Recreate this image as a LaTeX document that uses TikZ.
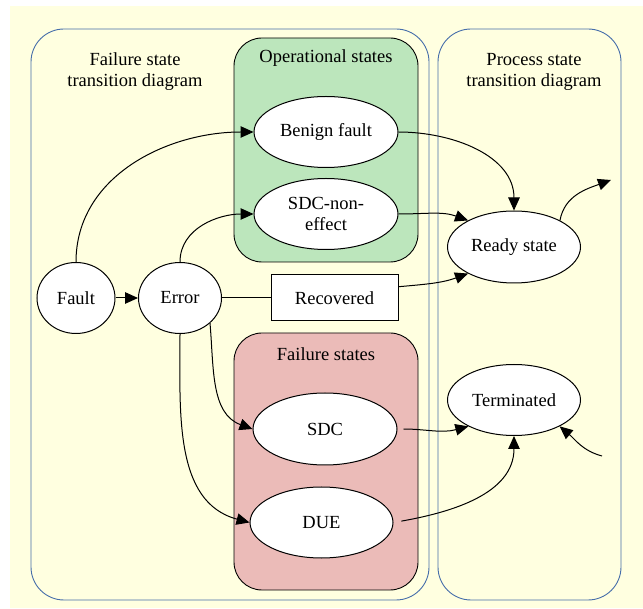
\documentclass[tikz,border=0pt]{standalone}
\usepackage{fontspec}
\setmainfont{Liberation Serif}
\usetikzlibrary{shapes.geometric,arrows.meta}

\definecolor{bgyellow}{RGB}{255,255,224}
\definecolor{opgreen}{RGB}{188,230,188}
\definecolor{failpink}{RGB}{235,187,184}
\definecolor{panelblue}{RGB}{70,110,170}

\tikzset{
    panel/.style={draw=panelblue, line width=0.9pt, rounded corners=33pt},
    group/.style={draw=black, line width=0.9pt, rounded corners=28pt},
    state/.style={ellipse, draw, fill=white, line width=1pt, inner sep=0pt, align=center},
    trans/.style={-{Triangle[length=13pt,width=11.5pt]}, line width=1pt},
}

\begin{document}
\begin{tikzpicture}[x=1pt, y=-1pt, font=\fontsize{18.5}{21}\selectfont]
            \useasboundingbox (0,0) rectangle (643,609);
            \fill[bgyellow] (10,6) rectangle (643,608);

            % Boxes
            \draw[panel] (31,29) rectangle (429,600);
            \draw[panel] (438,29) rectangle (621,600);
            \draw[group, fill=opgreen] (234,38) rectangle (418,262);
            \draw[group, fill=failpink] (234,333) rectangle (418,590);

            % Labels
            \node[align=center] (failtitle) at (135,72) {Failure state\\transition diagram};
            \node[align=center] (proctitle) at (534,72) {Process state\\transition diagram};
            \node (optitle) at (326,58) {Operational states};
            \node (failstitle) at (326,354) {Failure states};

            % States
            \node[state, minimum width=78pt, minimum height=71pt] (fault) at (76,298) {Fault};
            \node[state, minimum width=83pt, minimum height=71pt] (error) at (180,298) {Error};
            \node[state, minimum width=144pt, minimum height=71pt] (benign) at (326,132) {Benign fault};
            \node[state, minimum width=144pt, minimum height=71pt] (sdcne) at (326,214) {SDC-non-\\effect};
            \node[draw, fill=white, line width=1pt, minimum width=127pt, minimum height=46pt] (recovered) at (334.5,298) {Recovered};
            \node[state, minimum width=133pt, minimum height=72pt] (ready) at (514,247) {Ready state};
            \node[state, minimum width=144pt, minimum height=72pt] (sdc) at (325,429) {SDC};
            \node[state, minimum width=143pt, minimum height=71pt] (due) at (321.5,522.5) {DUE};
            \node[state, minimum width=133pt, minimum height=71pt] (term) at (514,400) {Terminated};

            \coordinate (readyout) at (611,180);
            \coordinate (termin) at (602,456);

            % Arrows
            \draw[trans] (fault) -- (error);
            \draw[trans] (fault.north) to[out=90, in=180] (benign.west);
            \draw[trans] (error.north) to[out=90, in=180] (sdcne.west);
            \draw[line width=1pt] (error) -- (recovered);
            \draw[trans] (recovered.10) to[out=5, in=200] (ready.210);
            \draw[trans] (benign.east) to[out=0, in=90] (ready.north);
            \draw[trans] (sdcne.east) to[out=0, in=160] (ready.150);
            \draw[trans] (ready.30) to[out=80, in=200] (readyout);
            \draw[trans] (error.-40) to[out=-85, in=160] (sdc.west);
            \draw[trans] (error.south) to[out=-90, in=165] (due.west);
            \draw[trans, shorten <=6pt] (sdc.east) to[out=0, in=195] (term.210);
            \draw[trans, shorten <=8pt] (due.east) to[out=10, in=-90] (term.south);
            \draw[trans] (termin) to[out=165, in=-40] (term.-30);
\end{tikzpicture}
\end{document}
